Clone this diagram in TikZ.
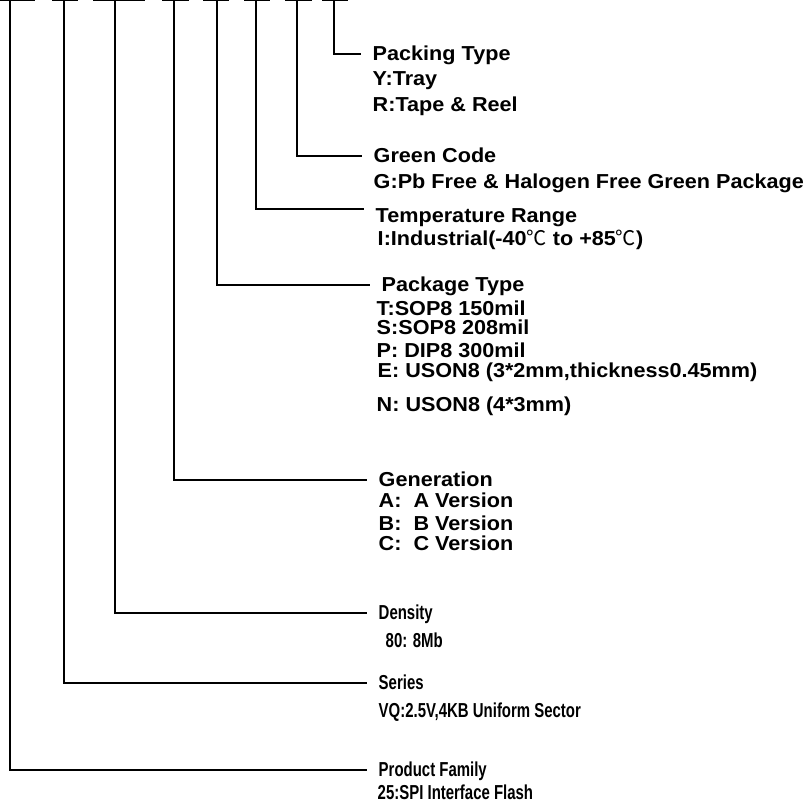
\documentclass[tikz,border=0pt]{standalone}
\usepackage{fontspec}
\setmainfont{Liberation Sans}
\newfontfamily\widefont{Liberation Sans}[FakeStretch=1.07]
\newfontfamily\narrowfont{Liberation Sans}[FakeStretch=0.74]
\newfontfamily\cjk{Noto Sans CJK SC}
\newcommand{\degc}{{\cjk\mdseries ℃}}
\begin{document}
\begin{tikzpicture}[
x=0.02cm, y=-0.02cm,
line width=0.85pt,
lbl/.style={
inner xsep=6.26pt,
inner ysep=0pt,
text height=0.716em,
text depth=0pt,
font=\widefont\bfseries\fontsize{11.5}{13}\selectfont
},
title/.style={lbl, anchor=west},
opt/.style={lbl, inner xsep=0pt, anchor=base west},
titlen/.style={title, font=\narrowfont\bfseries\fontsize{11.5}{13}\selectfont},
optn/.style={opt, font=\narrowfont\bfseries\fontsize{11.5}{13}\selectfont}
]
\useasboundingbox (0,0) rectangle (806,806);
\foreach \a/\b in {0/35,52/78,93/145,162/189,203/229,244/270,285/312,322/348}
  \draw (\a,0.7) -- (\b,0.7);
\coordinate (fam) at (10,0);
\coordinate (ser) at (64,0);
\coordinate (den) at (115,0);
\coordinate (gen) at (174,0);
\coordinate (pkg) at (217,0);
\coordinate (tmp) at (256,0);
\coordinate (grn) at (297,0);
\coordinate (pck) at (334,0);
\node[title] (packing) at (361,54) {Packing Type};
\node[opt] (tray) at (372,85) {Y:Tray};
\node[opt] (reel) at (372,111) {R:Tape \& Reel};
\node[title] (green) at (362,156) {Green Code};
\node[opt] (pbfree) at (373,188) {G:Pb Free \& Halogen Free Green Package};
\node[title, anchor=north west] (temp) at (364,209) {Temperature Range};
\node[opt] (indus) at (377,245) {I:Industrial(-40\degc{} to +85\degc)};
\node[title] (package) at (370,285) {Package Type};
\node[opt] (sopt) at (376,315) {T:SOP8 150mil};
\node[opt] (sops) at (376,334) {S:SOP8 208mil};
\node[opt] (dip) at (376,357) {P: DIP8 300mil};
\node[opt] (usone) at (377,377) {E: USON8 (3*2mm,thickness0.45mm)};
\node[opt] (usonn) at (376,411) {N: USON8 (4*3mm)};
\node[title] (generation) at (367,480) {Generation};
\node[opt] (vera) at (378,507) {A:~~A Version};
\node[opt] (verb) at (378,530) {B:~~B Version};
\node[opt] (verc) at (378,550) {C:~~C Version};
\node[titlen] (density) at (367,613) {Density};
\node[optn] (mb) at (385,647) {80: 8Mb};
\node[titlen] (series) at (367,683) {Series};
\node[optn] (vq) at (378,717) {VQ:2.5V,4KB Uniform Sector};
\node[titlen] (family) at (367,770) {Product Family};
\node[optn] (spi) at (377,799) {25:SPI Interface Flash};
\draw (pck) |- (packing.west);
\draw (grn) |- (green.west);
\draw (tmp) |- (temp.north west);
\draw (pkg) |- (package.west);
\draw (gen) |- (generation.west);
\draw (den) |- (density.west);
\draw (ser) |- (series.west);
\draw (fam) |- (family.west);
\end{tikzpicture}
\end{document}
